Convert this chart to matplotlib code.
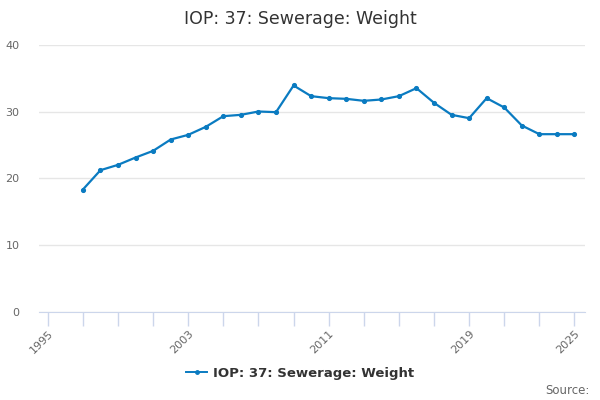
import numpy as np
from matplotlib import pyplot as plt
from matplotlib.lines import Line2D

# data
years = list(range(1997, 2026))
weights = [18.3, 21.2, 22.0, 23.1, 24.1, 25.8, 26.5, 27.7, 29.3, 29.5,
           30.0, 29.9, 33.9, 32.3, 32.0, 31.9, 31.6, 31.8, 32.3, 33.5,
           31.3, 29.5, 29.0, 32.0, 30.6, 27.9, 26.6, 26.6, 26.6]
label_years = [1995, 2003, 2011, 2019, 2025]
y_ticks = [0, 10, 20, 30, 40]

title = 'IOP: 37: Sewerage: Weight'
series_name = 'IOP: 37: Sewerage: Weight'
line_color = '#0a7bc1'

fig = plt.figure(figsize=(6, 4), dpi=100)
ax = fig.add_axes([0.065, 0.221, 0.91, 0.667])

ax.plot(years, weights, color=line_color, lw=1.6, marker='o', ms=2.7,
        zorder=3)

ax.set_xlim(1994.5, 2025.6)
ax.set_ylim(0, 40)

# y axis: grid only
ax.set_yticks(y_ticks)
ax.set_yticklabels([str(v) for v in y_ticks])
ax.yaxis.grid(True, color='#e6e6e6', lw=1)
ax.set_axisbelow(True)
ax.tick_params(axis='y', length=0, labelsize=8, labelcolor='#666666', pad=14)

# x axis: tick marks every 2 years, labels only on a few
ticks = list(range(1995, 2026, 2))
ax.set_xticks(ticks)
ax.set_xticklabels([str(t) if t in label_years else '' for t in ticks])
ax.tick_params(axis='x', length=10, width=1, color='#ccd6eb',
               labelsize=8, labelcolor='#666666', pad=2)
for lab in ax.get_xticklabels():
    lab.set_rotation(45)
    lab.set_ha('right')
    lab.set_va('top')
    lab.set_rotation_mode('anchor')

for s in ['top', 'right', 'left']:
    ax.spines[s].set_visible(False)
ax.spines['bottom'].set_color('#ccd6eb')

fig.text(0.5, 0.953, title, ha='center', va='center', fontsize=12.5,
         color='#333333')

handle = Line2D([], [], color=line_color, lw=1.4, marker='o', ms=2.5)
leg = fig.legend([handle], [series_name], loc='center',
                 bbox_to_anchor=(0.5, 0.066), frameon=False,
                 prop={'size': 9.5, 'weight': 'bold'}, handlelength=1.6,
                 handletextpad=0.4)
for t in leg.get_texts():
    t.set_color('#333333')

fig.text(0.982, 0.025, 'Source:', ha='right', va='center', fontsize=8.5,
         color='#666666')

fig.savefig('out.png', dpi=100)
